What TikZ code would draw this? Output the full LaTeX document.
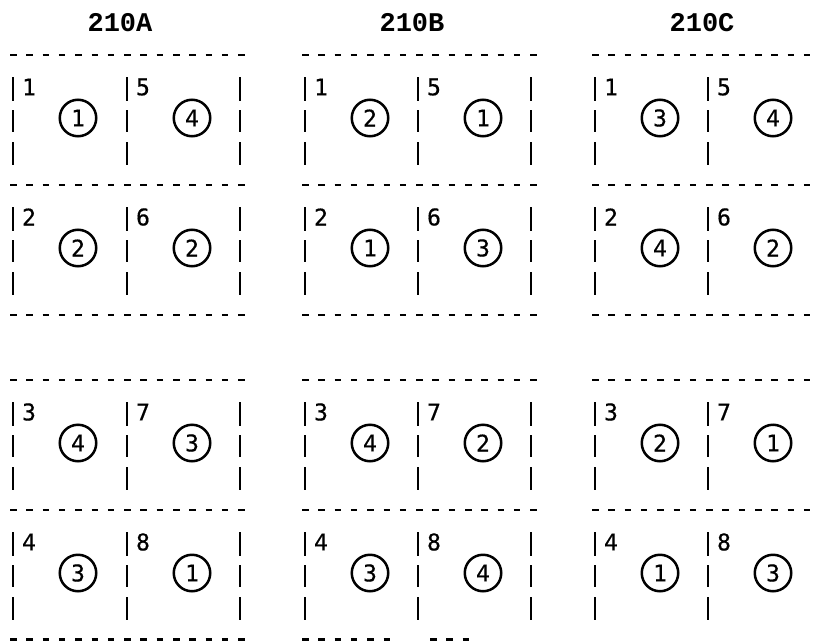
\documentclass[tikz,border=0pt]{standalone}
\usepackage{fontspec}
\newfontfamily\digitfont{DejaVu Sans Mono}[FakeBold=0.6]
\newfontfamily\titlefont{Liberation Mono}
\begin{document}
\begin{tikzpicture}[x=1pt,y=-1pt,
  dashline/.style={line width=2.6pt, dash pattern=on 6.5pt off 9.8pt},
  barline/.style={line width=2.6pt},
  titletext/.style={font=\titlefont\bfseries\fontsize{27}{27}\selectfont, inner sep=0pt},
  numlabel/.style={font=\digitfont\fontsize{23}{23}\selectfont, inner sep=0pt},
  ring/.style={circle, draw, line width=2.5pt, minimum size=36.5pt, inner sep=0pt,
    font=\digitfont\fontsize{23}{23}\selectfont}]
\useasboundingbox (0,0) rectangle (816,642);
\fill[white] (0,0) rectangle (816,642);
% titles
\foreach \x/\g in {13/A,305/B,595/C}
  \node[titletext] (t\g) at (\x+107,22.5) {210\g};
% dashed horizontal lines
\foreach \xa/\xb in {10/246,302/538,592/816}
  \foreach \y in {55,185,315,380,510}
    \draw[dashline] (\xa,\y) -- (\xb,\y);
\draw[dashline] (10,639.5) -- (246,639.5);
\draw[dashline] (302,639.5) -- (393,639.5);
\draw[dashline] (430,639.5) -- (471,639.5);
% vertical bar segments
\foreach \bx in {13,127,240,305,418,531,595,708}
  \foreach \T in {55,185,380,510}
    \draw[barline] (\bx,\T+22) -- (\bx,\T+46)
                   (\bx,\T+55) -- (\bx,\T+77)
                   (\bx,\T+87) -- (\bx,\T+110);
% cells
\foreach \x/\g/\n/\v in {
  13/A/1/1,13/A/2/2,13/A/3/4,13/A/4/3,127/A/5/4,127/A/6/2,127/A/7/3,127/A/8/1,
  305/B/1/2,305/B/2/1,305/B/3/4,305/B/4/3,418/B/5/1,418/B/6/3,418/B/7/2,418/B/8/4,
  595/C/1/3,595/C/2/4,595/C/3/2,595/C/4/1,708/C/5/4,708/C/6/2,708/C/7/1,708/C/8/3} {
  \pgfmathtruncatemacro\r{mod(\n-1,4)}
  \pgfmathsetmacro\T{\r<2 ? 55+130*\r : 380+130*(\r-2)}
  \node[numlabel] (l\g\n) at (\x+16,\T+32) {\n};
  \node[ring] (c\g\n) at (\x+65,\T+63) {\v};
}
\end{tikzpicture}
\end{document}
